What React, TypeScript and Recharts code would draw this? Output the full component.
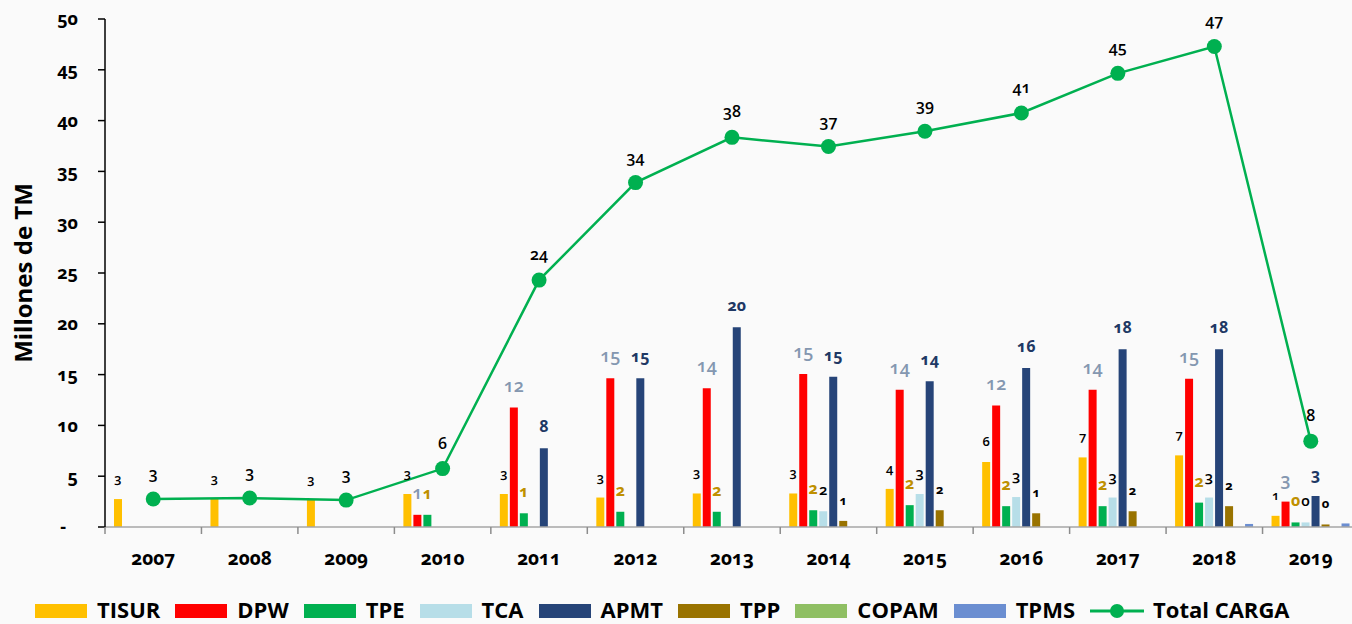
import React from 'react';
import { ComposedChart, Bar, Line, XAxis, YAxis, LabelList, Legend, Label } from 'recharts';

// ---------- data ----------
const years = ['2007', '2008', '2009', '2010', '2011', '2012', '2013', '2014', '2015', '2016', '2017', '2018', '2019'];
const seriesNames = ['TISUR', 'DPW', 'TPE', 'TCA', 'APMT', 'TPP', 'COPAM', 'TPMS'];
const tisur = [2.75, 2.8, 2.7, 3.25, 3.25, 2.9, 3.3, 3.3, 3.75, 6.4, 6.85, 7.05, 1.1];
const dpw = [null, null, null, 1.2, 11.75, 14.65, 13.65, 15.05, 13.5, 11.95, 13.5, 14.6, 2.5];
const tpe = [null, null, null, 1.2, 1.35, 1.5, 1.5, 1.65, 2.15, 2.05, 2.05, 2.4, 0.45];
const tca = [null, null, null, null, null, null, null, 1.55, 3.25, 2.95, 2.9, 2.9, 0.45];
const apmt = [null, null, null, null, 7.75, 14.65, 19.65, 14.8, 14.35, 15.65, 17.5, 17.5, 3.05];
const tpp = [null, null, null, null, null, null, null, 0.6, 1.65, 1.35, 1.55, 2.05, 0.25];
const copam = [null, null, null, null, null, null, null, null, null, null, null, null, null];
const tpms = [null, null, null, null, null, null, null, null, null, null, null, 0.3, 0.35];
const seriesValues = [tisur, dpw, tpe, tca, apmt, tpp, copam, tpms];
const totalName = 'Total CARGA';
const totalCarga = [2.75, 2.85, 2.65, 5.75, 24.3, 33.9, 38.35, 37.45, 38.95, 40.75, 44.65, 47.3, 8.45];
const yTicks = [0, 5, 10, 15, 20, 25, 30, 35, 40, 45, 50];
const yTitle = 'Millones de TM';

const data = years.map((y, i) => {
  const row: any = { year: y, total: totalCarga[i] };
  seriesNames.forEach((n, k) => {
    row[n] = seriesValues[k][i];
  });
  return row;
});

// ---------- styles ----------
const FONT = '"Open Sans", "Noto Sans", sans-serif';
const barColors: Record<string, string> = {
  TISUR: '#FFC000',
  DPW: '#FF0000',
  TPE: '#00B050',
  TCA: '#B7DEE8',
  APMT: '#264478',
  TPP: '#997300',
  COPAM: '#8FBF63',
  TPMS: '#6B8ED1',
};
const labelStyles: Record<string, any> = {
  TISUR: { fill: '#000000', size: 13, weight: 600 },
  DPW: { fill: '#8497B0', size: 18, weight: 600 },
  TPE: { fill: '#BF9000', size: 16, weight: 700 },
  TCA: { fill: '#000000', size: 15, weight: 600 },
  APMT: { fill: '#203864', size: 16, weight: 700 },
  TPP: { fill: '#000000', size: 13, weight: 700 },
  COPAM: null,
  TPMS: null,
};
const lineColor = '#00B050';

const CHART_W = 1362;
const CHART_H = 624;
const MARGIN = { top: 19, right: 3, left: 15, bottom: 0 };
const Y_AXIS_W = 90;
const PLOT_W = CHART_W - MARGIN.left - MARGIN.right - Y_AXIS_W;
const BAND = PLOT_W / years.length;

const XTick = (props: any) => {
  const { x, y, payload, index } = props;
  const left = x - BAND / 2;
  const right = x + BAND / 2;
  return (
    <g>
      <line x1={left} y1={y} x2={left} y2={y + 7} stroke="#8C8C8C" strokeWidth={1.5} />
      {index === years.length - 1 && (
        <line x1={right} y1={y} x2={right} y2={y + 7} stroke="#8C8C8C" strokeWidth={1.5} />
      )}
      <text
        x={x}
        y={y + 38}
        textAnchor="middle"
        fontFamily={FONT}
        fontSize={19}
        fontWeight={700}
        fill="#000"
      >
        {payload.value}
      </text>
    </g>
  );
};

const YTick = (props: any) => {
  const { x, y, payload } = props;
  const isZero = payload.value === 0;
  return (
    <text
      x={isZero ? x - 12 : x}
      y={y}
      dy="0.36em"
      textAnchor="end"
      fontFamily={FONT}
      fontSize={18}
      fontWeight={700}
      fill="#000"
    >
      {isZero ? '-' : payload.value}
    </text>
  );
};

const YTitle = (props: any) => {
  const { viewBox } = props;
  const cx = viewBox.x + 7;
  const cy = viewBox.y + viewBox.height / 2;
  return (
    <text
      x={cx}
      y={cy}
      transform={`rotate(-90 ${cx} ${cy})`}
      textAnchor="middle"
      dominantBaseline="central"
      fontFamily={FONT}
      fontSize={24}
      fontWeight={700}
      fill="#000"
    >
      {yTitle}
    </text>
  );
};

const renderLegend = () => (
  <div
    style={{
      height: 30,
      display: 'flex',
      alignItems: 'center',
      paddingLeft: 35,
      boxSizing: 'border-box',
      fontFamily: FONT,
      fontWeight: 700,
      fontSize: 22,
      color: '#000',
      whiteSpace: 'nowrap',
    }}
  >
    {seriesNames.map((n) => (
      <div key={n} style={{ display: 'flex', alignItems: 'center', marginRight: 15, height: 22 }}>
        <div style={{ width: 52, height: 14, background: barColors[n], marginRight: 10, marginTop: 3 }} />
        <span style={{ lineHeight: '22px' }}>{n}</span>
      </div>
    ))}
    <div style={{ display: 'flex', alignItems: 'center', height: 22 }}>
      <svg width={54} height={16} style={{ marginRight: 9, marginTop: 3 }}>
        <line x1={0} y1={8} x2={54} y2={8} stroke={lineColor} strokeWidth={3} />
        <circle cx={27} cy={8} r={7} fill={lineColor} />
      </svg>
      <span style={{ lineHeight: '22px' }}>{totalName}</span>
    </div>
  </div>
);

export default function App() {
  return (
    <div
      style={{
        position: 'absolute',
        left: 0,
        top: 0,
        width: 1352,
        height: 624,
        overflow: 'hidden',
        background: '#FAFAFA',
        fontFamily: FONT,
        fontVariantNumeric: 'oldstyle-nums',
      }}
    >
      <ComposedChart
        width={CHART_W}
        height={CHART_H}
        data={data}
        margin={MARGIN}
        barSize={8}
        barGap={2}
      >
        <XAxis
          dataKey="year"
          type="category"
          height={67}
          tickSize={0}
          tickMargin={0}
          tickLine={false}
          axisLine={{ stroke: '#A6A6A6', strokeWidth: 1.5 }}
          tick={<XTick />}
          interval={0}
        />
        <YAxis
          width={Y_AXIS_W}
          domain={[0, 50]}
          ticks={yTicks}
          interval={0}
          tickSize={7}
          tickMargin={20}
          axisLine={{ stroke: '#000', strokeWidth: 1.5 }}
          tickLine={{ stroke: '#000', strokeWidth: 1.5 }}
          tick={<YTick />}
        >
          <Label content={<YTitle />} />
        </YAxis>
        <Legend
          verticalAlign="bottom"
          height={30}
          content={renderLegend}
          wrapperStyle={{ left: 0, bottom: 0, width: 1352 }}
        />
        {seriesNames.map((n) => {
          const ls = labelStyles[n];
          return (
            <Bar key={n} dataKey={n} name={n} fill={barColors[n]} isAnimationActive={false}>
              {ls && (
                <LabelList
                  dataKey={n}
                  position="top"
                  offset={16}
                  formatter={(v: any) => (v == null ? '' : Math.round(v))}
                  fill={ls.fill}
                  fontSize={ls.size}
                  fontWeight={ls.weight}
                  fontFamily={FONT}
                />
              )}
            </Bar>
          );
        })}
        <Line
          dataKey="total"
          name={totalName}
          stroke={lineColor}
          strokeWidth={2.5}
          dot={{ r: 7.5, fill: lineColor, stroke: lineColor, strokeWidth: 0 }}
          activeDot={false}
          isAnimationActive={false}
        >
          <LabelList
            dataKey="total"
            position="top"
            offset={20}
            formatter={(v: any) => Math.round(v)}
            fill="#000"
            fontSize={16}
            fontWeight={600}
            fontFamily={FONT}
          />
        </Line>
      </ComposedChart>
    </div>
  );
}
